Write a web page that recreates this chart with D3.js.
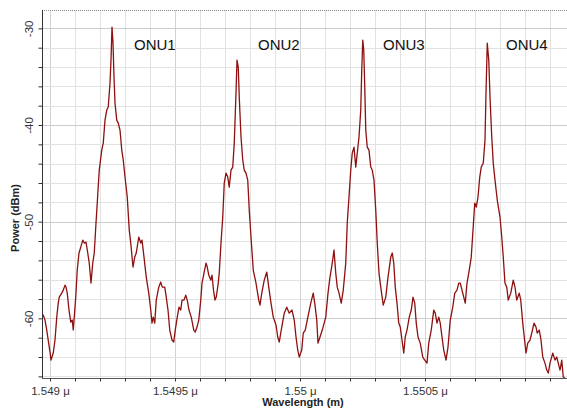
<!DOCTYPE html>
<html>
<head>
<meta charset="utf-8">
<script src="https://cdn.jsdelivr.net/npm/d3@7"></script>
<style>
  html, body { margin: 0; padding: 0; background: #ffffff; }
  svg { display: block; font-family: "Liberation Sans", Arial, sans-serif; }
</style>
</head>
<body>
<svg id="chart" width="567" height="412"></svg>
<script>
// ---- data (wavelength in nm, power in dBm) ----
const wavelengthNm = [
1548.968,1548.973,1548.980,1548.987,1548.994,1549.000,1549.004,1549.013,1549.020,1549.027,
1549.033,1549.037,1549.047,1549.053,1549.060,1549.064,1549.069,1549.076,1549.083,1549.089,
1549.093,1549.097,1549.103,1549.109,1549.116,1549.123,1549.131,1549.137,1549.144,1549.151,
1549.157,1549.164,1549.171,1549.177,1549.184,1549.189,1549.197,1549.207,1549.213,1549.220,
1549.227,1549.233,1549.240,1549.244,1549.248,1549.252,1549.256,1549.260,1549.267,1549.273,
1549.280,1549.287,1549.293,1549.300,1549.309,1549.317,1549.323,1549.332,1549.339,1549.345,
1549.355,1549.363,1549.368,1549.376,1549.385,1549.395,1549.403,1549.408,1549.413,1549.419,
1549.425,1549.435,1549.443,1549.449,1549.459,1549.465,1549.472,1549.479,1549.488,1549.495,
1549.501,1549.509,1549.516,1549.523,1549.528,1549.536,1549.543,1549.549,1549.556,1549.565,
1549.575,1549.581,1549.588,1549.595,1549.603,1549.608,1549.616,1549.624,1549.629,1549.635,
1549.643,1549.648,1549.654,1549.660,1549.665,1549.672,1549.677,1549.684,1549.691,1549.697,
1549.704,1549.711,1549.717,1549.724,1549.731,1549.737,1549.744,1549.748,1549.753,1549.757,
1549.764,1549.771,1549.777,1549.784,1549.791,1549.797,1549.804,1549.813,1549.824,1549.835,
1549.840,1549.847,1549.857,1549.867,1549.875,1549.884,1549.893,1549.904,1549.911,1549.917,
1549.927,1549.937,1549.947,1549.957,1549.968,1549.977,1549.984,1549.991,1549.997,1550.007,
1550.013,1550.021,1550.029,1550.043,1550.053,1550.060,1550.067,1550.072,1550.080,1550.089,
1550.103,1550.112,1550.120,1550.129,1550.136,1550.143,1550.149,1550.156,1550.165,1550.173,
1550.183,1550.189,1550.196,1550.203,1550.209,1550.216,1550.223,1550.229,1550.236,1550.243,
1550.247,1550.251,1550.255,1550.259,1550.263,1550.269,1550.276,1550.283,1550.289,1550.296,
1550.303,1550.309,1550.316,1550.323,1550.333,1550.343,1550.352,1550.363,1550.369,1550.375,
1550.381,1550.388,1550.395,1550.401,1550.408,1550.415,1550.421,1550.428,1550.437,1550.445,
1550.452,1550.459,1550.465,1550.472,1550.481,1550.491,1550.499,1550.508,1550.515,1550.525,
1550.535,1550.541,1550.548,1550.555,1550.561,1550.568,1550.575,1550.584,1550.592,1550.601,
1550.611,1550.619,1550.628,1550.635,1550.641,1550.648,1550.655,1550.661,1550.668,1550.677,
1550.685,1550.692,1550.699,1550.705,1550.712,1550.719,1550.725,1550.733,1550.740,1550.744,
1550.749,1550.755,1550.760,1550.767,1550.773,1550.780,1550.789,1550.800,1550.807,1550.813,
1550.820,1550.827,1550.833,1550.843,1550.853,1550.860,1550.867,1550.877,1550.883,1550.891,
1550.897,1550.904,1550.911,1550.920,1550.927,1550.936,1550.944,1550.949,1550.957,1550.964,
1550.971,1550.980,1550.987,1550.993,1551.000,1551.011,1551.020,1551.027,1551.033,1551.040,
1551.047,1551.053,1551.060
];
const powerDbm = [
-59.87,-59.66,-60.18,-61.21,-62.45,-63.49,-64.32,-63.59,-62.24,-59.87,
-58.42,-57.80,-57.39,-57.08,-56.56,-56.77,-57.39,-59.14,-60.38,-60.18,
-61.21,-59.87,-57.80,-55.00,-53.24,-52.63,-51.90,-52.21,-52.11,-53.24,
-54.28,-56.36,-54.28,-53.24,-50.14,-48.07,-44.66,-42.59,-41.87,-39.49,
-38.45,-38.14,-35.66,-33.28,-29.87,-31.52,-35.04,-37.73,-39.49,-39.80,
-40.52,-42.59,-43.62,-45.38,-47.45,-50.87,-52.21,-54.69,-53.66,-53.24,
-51.59,-52.21,-51.90,-53.66,-55.73,-57.39,-59.14,-60.49,-59.87,-60.49,
-58.11,-56.77,-56.25,-56.77,-56.77,-57.80,-59.14,-61.21,-62.24,-62.45,
-61.21,-59.87,-58.84,-59.14,-58.11,-58.11,-57.60,-58.11,-59.14,-59.87,
-61.21,-61.42,-60.90,-60.18,-58.11,-56.36,-55.32,-54.28,-54.69,-55.52,
-56.04,-55.52,-57.08,-58.11,-57.80,-56.56,-55.32,-52.21,-49.52,-46.00,
-44.97,-45.38,-46.42,-44.66,-44.35,-41.87,-36.69,-33.28,-34.00,-37.11,
-41.24,-43.62,-44.66,-44.97,-45.70,-48.80,-51.59,-55.00,-56.36,-58.11,
-58.63,-57.39,-56.04,-55.21,-56.77,-58.42,-59.87,-60.69,-61.93,-62.45,
-60.90,-59.46,-58.84,-59.46,-59.14,-60.18,-61.93,-63.28,-64.00,-63.28,
-61.52,-61.21,-60.18,-58.42,-57.39,-58.63,-60.18,-62.56,-61.93,-61.21,
-59.87,-57.39,-55.73,-54.28,-52.93,-55.32,-56.77,-57.39,-58.42,-57.08,
-54.28,-50.14,-47.45,-44.66,-42.90,-42.28,-44.35,-42.90,-41.24,-38.45,
-34.31,-31.21,-32.24,-36.07,-40.52,-42.28,-42.59,-44.35,-44.66,-45.70,
-48.80,-52.21,-55.32,-56.77,-58.63,-57.80,-55.73,-53.66,-53.24,-54.28,
-56.77,-58.42,-60.49,-60.90,-62.24,-63.59,-61.93,-61.21,-59.87,-59.14,
-57.80,-58.42,-60.49,-61.93,-62.56,-64.00,-64.32,-64.63,-62.56,-61.21,
-59.14,-59.46,-60.49,-59.87,-60.49,-61.93,-63.28,-64.32,-62.97,-60.18,
-58.84,-57.39,-57.08,-56.36,-56.36,-57.08,-57.80,-58.42,-56.36,-55.00,
-53.66,-50.87,-48.07,-48.49,-47.45,-45.38,-44.35,-43.94,-41.56,-36.69,
-31.52,-33.28,-37.11,-41.24,-43.94,-45.70,-47.76,-49.52,-51.59,-53.66,
-56.36,-56.77,-58.11,-57.39,-56.04,-56.77,-58.11,-57.39,-58.11,-60.49,
-61.93,-63.59,-62.56,-62.24,-61.52,-60.49,-60.90,-61.52,-61.21,-62.24,
-64.00,-64.63,-65.35,-65.66,-64.63,-63.59,-64.32,-64.00,-64.63,-65.35,
-64.32,-66.07,-66.17
];

const xDomain = [1548.968, 1551.068];
const yDomain = [-66.17, -28.1];
const xMajorTicks = [1549.0, 1549.5, 1550.0, 1550.5];
const xTickLabels = ["1.549 \u03bc", "1.5495 \u03bc", "1.55 \u03bc", "1.5505 \u03bc"];
const yMajorTicks = [-60, -50, -40, -30];
const yTickLabels = ["-60", "-50", "-40", "-30"];
const onuLabels = ["ONU1", "ONU2", "ONU3", "ONU4"];
const onuLabelWavelength = [1549.336, 1549.832, 1550.332, 1550.824];
const onuLabelPower = [-32.24, -32.24, -32.24, -32.24];
const xTitle = "Wavelength (m)";
const yTitle = "Power (dBm)";

// ---- layout ----
const plotL = 42, plotR = 567, plotT = 10, plotB = 378;
const svg = d3.select("#chart");
const x = d3.scaleLinear().domain(xDomain).range([plotL, plotR]);
const y = d3.scaleLinear().domain(yDomain).range([plotB, plotT]);

const xMinor = d3.range(0, 21).map(i => +(1549 + i * 0.1).toFixed(1));
const yMinor = d3.range(-66, -28, 2);

// grid
const grid = svg.append("g");
grid.selectAll("line.vx").data(xMinor).join("line")
  .attr("x1", d => Math.round(x(d)) + 0.5).attr("x2", d => Math.round(x(d)) + 0.5)
  .attr("y1", plotT).attr("y2", plotB)
  .attr("stroke", d => xMajorTicks.includes(d) ? "#d2d2d2" : "#e2e2e2").attr("stroke-width", 1);
grid.selectAll("line.hy").data(yMinor).join("line")
  .attr("y1", d => Math.round(y(d)) + 0.5).attr("y2", d => Math.round(y(d)) + 0.5)
  .attr("x1", plotL).attr("x2", plotR)
  .attr("stroke", d => yMajorTicks.includes(d) ? "#cccccc" : "#e2e2e2").attr("stroke-width", 1);

// top dotted border
svg.append("line").attr("x1", plotL).attr("x2", plotR).attr("y1", plotT + 0.5).attr("y2", plotT + 0.5)
  .attr("stroke", "#888").attr("stroke-dasharray", "1,1");

// data line
const clipId = "plotclip";
svg.append("clipPath").attr("id", clipId).append("rect")
  .attr("x", plotL).attr("y", plotT).attr("width", plotR - plotL).attr("height", plotB - plotT + 1);
const pts = wavelengthNm.map((w, i) => [w, powerDbm[i]]);
svg.append("path").datum(pts)
  .attr("clip-path", `url(#${clipId})`)
  .attr("fill", "none").attr("stroke", "#8e1010").attr("stroke-width", 1.3)
  .attr("stroke-linejoin", "round")
  .attr("d", d3.line().x(d => x(d[0])).y(d => y(d[1])));

// y axis
const yAxis = d3.axisLeft(y).tickValues(yMinor).tickSize(4)
  .tickFormat(d => { const i = yMajorTicks.indexOf(d); return i >= 0 ? yTickLabels[i] : ""; });
const gy = svg.append("g").attr("transform", `translate(${plotL + 0.5},0)`).call(yAxis);
gy.select(".domain").attr("stroke", "#333").attr("d", `M0,${plotT}V${plotB}`);
gy.selectAll(".tick line").attr("stroke", "#333");
gy.selectAll(".tick text")
  .attr("font-size", 11.5).attr("fill", "#333")
  .attr("text-anchor", "middle")
  .attr("x", 0).attr("dy", 0)
  .attr("transform", "translate(-10,0) rotate(-90)");

// x axis
const xAxis = d3.axisBottom(x).tickValues(xMinor).tickSize(3)
  .tickFormat(d => { const i = xMajorTicks.indexOf(d); return i >= 0 ? xTickLabels[i] : ""; });
const gx = svg.append("g").attr("transform", `translate(0,${plotB + 0.5})`).call(xAxis);
gx.select(".domain").attr("stroke", "#555").attr("d", `M${plotL},0H${plotR}`);
gx.selectAll(".tick line").attr("stroke", "#333");
gx.selectAll(".tick text").attr("font-size", 11.5).attr("fill", "#333").attr("y", 8);

// titles
svg.append("text").attr("x", 303).attr("y", 406)
  .attr("text-anchor", "middle").attr("font-size", 11).attr("font-weight", "bold").attr("fill", "#222")
  .text(xTitle);
svg.append("text").attr("transform", `translate(19,218) rotate(-90)`)
  .attr("text-anchor", "middle").attr("font-size", 11).attr("font-weight", "bold").attr("fill", "#222")
  .text(yTitle);

// ONU annotations
svg.selectAll("text.onu").data(onuLabels).join("text")
  .attr("x", (d, i) => x(onuLabelWavelength[i]))
  .attr("y", (d, i) => y(onuLabelPower[i]))
  .attr("font-size", 15).attr("fill", "#111")
  .text(d => d);
</script>
</body>
</html>
